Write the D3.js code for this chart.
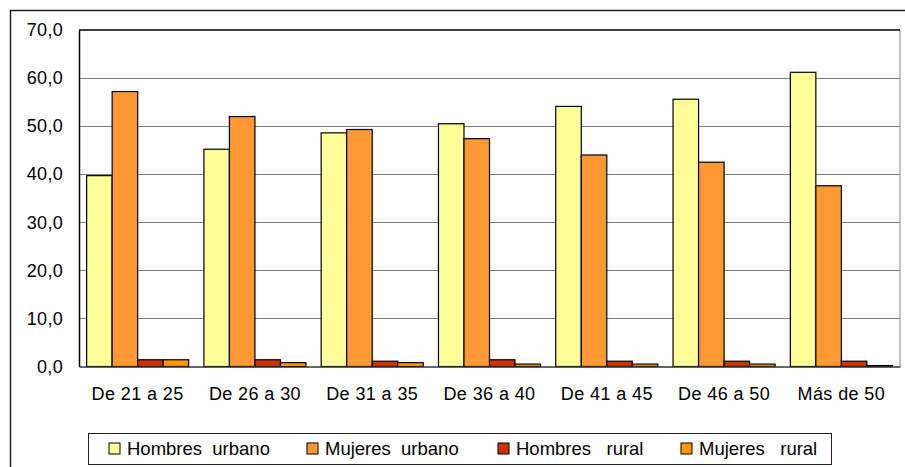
<!DOCTYPE html>
<html><head><meta charset="utf-8">
<script src="https://cdn.jsdelivr.net/npm/d3@7"></script>
<style>
body{margin:0;background:#fff;}
svg text{font-family:"Liberation Sans",Arial,sans-serif;fill:#000;}
</style></head>
<body><svg id="c" width="905" height="467"></svg>
<script>
const categories = ["De 21 a 25","De 26 a 30","De 31 a 35","De 36 a 40","De 41 a 45","De 46 a 50","Más de 50"];
const seriesNames = ["Hombres  urbano","Mujeres  urbano","Hombres   rural","Mujeres   rural"];
const hombresUrbano = [39.7,45.2,48.6,50.5,54.1,55.6,61.2];
const mujeresUrbano = [57.2,52.0,49.3,47.4,44.0,42.5,37.6];
const hombresRural = [1.4,1.4,1.1,1.4,1.1,1.1,1.1];
const mujeresRural = [1.4,0.8,0.8,0.5,0.5,0.5,0.2];
const yTicks = [0,10,20,30,40,50,60,70];
const colors = ["#FFFF99","#FF9933","#CC3300","#FF9900"];

const series = [hombresUrbano,mujeresUrbano,hombresRural,mujeresRural];
const svg = d3.select("#c");
const L=79,R=900,T=30,B=366.5;

svg.append("path").attr("d","M10.5,467 V10.5 H905").attr("fill","none").attr("stroke","#222").attr("stroke-width",1.5);

const x = d3.scaleBand().domain(categories).range([L,R]).paddingInner(0.13).paddingOuter(0.065);
const xs = d3.scaleBand().domain(d3.range(4)).range([0,x.bandwidth()]);
const y = d3.scaleLinear().domain([0,70]).range([B,T]);

svg.append("g").selectAll("line").data(yTicks.filter(t=>t>0&&t<70)).join("line")
  .attr("x1",L).attr("x2",R).attr("y1",d=>Math.round(y(d))+0.5).attr("y2",d=>Math.round(y(d))+0.5)
  .attr("stroke","#808080").attr("stroke-width",1);
svg.append("line").attr("x1",R).attr("x2",R).attr("y1",T).attr("y2",B).attr("stroke","#808080");
svg.append("line").attr("x1",L).attr("x2",R).attr("y1",T).attr("y2",T).attr("stroke","#000").attr("stroke-width",1.5);

const g = svg.append("g");
categories.forEach((c,i)=>{
  series.forEach((s,j)=>{
    g.append("rect").attr("x",x(c)+xs(j)).attr("y",y(s[i])).attr("width",xs.bandwidth()).attr("height",B-y(s[i]))
      .attr("fill",colors[j]).attr("stroke","#000").attr("stroke-width",1.2);
  });
});

const ya = svg.append("g").attr("transform",`translate(${L},0)`).call(d3.axisLeft(y).tickValues(yTicks).tickSize(0).tickPadding(16).tickFormat(d=>d3.format(".1f")(d).replace(".",",")));
ya.select(".domain").attr("stroke","#000").attr("stroke-width",1.5);
ya.selectAll("text").attr("font-size","18px").attr("letter-spacing","0.3px").attr("font-family","Liberation Sans, Arial, sans-serif").attr("fill","#000");

const xa = svg.append("g").attr("transform",`translate(0,${B})`).call(d3.axisBottom(x).tickSize(0).tickPadding(21));
xa.select(".domain").attr("stroke","#333").attr("stroke-width",1.5);
xa.selectAll("text").attr("font-size","18px").attr("letter-spacing","0.4px").attr("font-family","Liberation Sans, Arial, sans-serif").attr("fill","#000");

svg.append("rect").attr("x",88.5).attr("y",433.5).attr("width",743).attr("height",31).attr("fill","#fff").attr("stroke","#222");
const lx = [109,307,498,681];
const lg = svg.append("g").selectAll("g").data(seriesNames).join("g").attr("transform",(d,i)=>`translate(${lx[i]},443)`);
lg.append("rect").attr("width",11).attr("height",11).attr("fill",(d,i)=>colors[i]).attr("stroke","#000");
lg.append("text").attr("x",18).attr("y",11.5).attr("font-size","18.5px").style("white-space","pre").attr("xml:space","preserve").text(d=>d);
</script></body></html>
